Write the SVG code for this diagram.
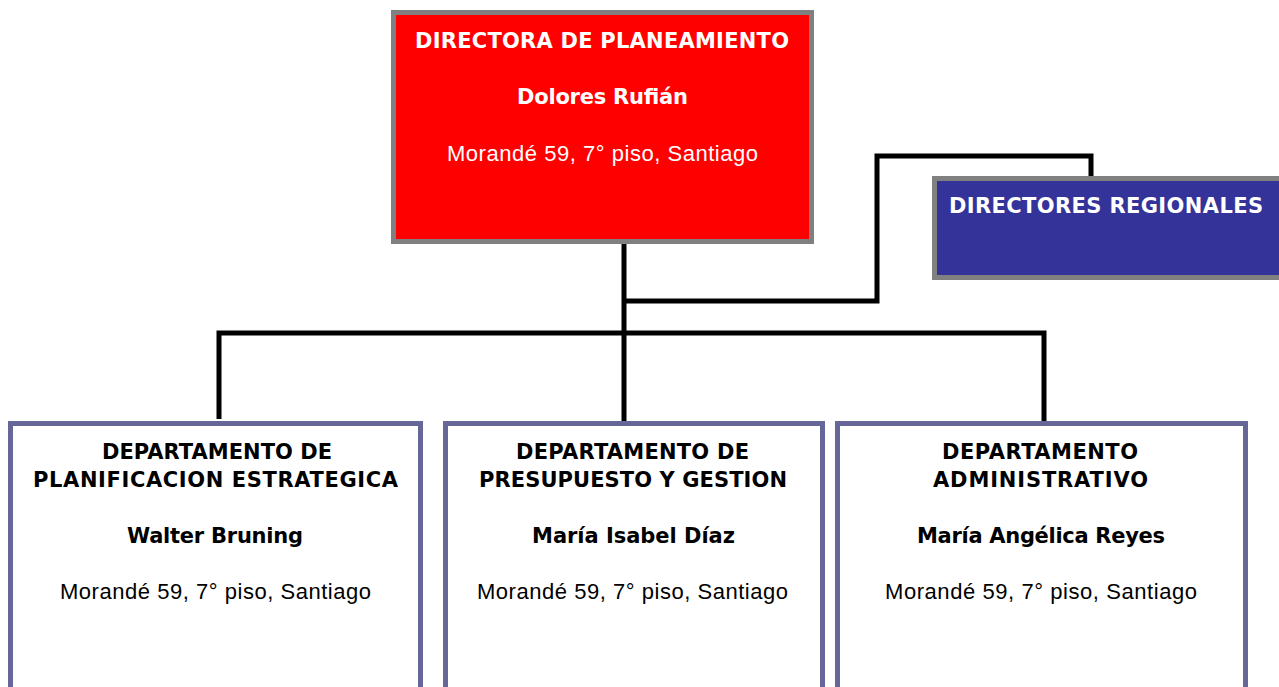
<svg xmlns="http://www.w3.org/2000/svg" width="1279" height="687" viewBox="0 0 1279 687">
<style>
.b{font-family:"DejaVu Sans","Liberation Sans",Arial,sans-serif;font-weight:bold;font-size:21px}
.r{font-family:"Liberation Sans",Arial,sans-serif;font-size:22px}
.w{fill:#ffffff}
.k{fill:#000000}
.dept{fill:#ffffff;stroke:#666699;stroke-width:5}
.conn{fill:none;stroke:#000000;stroke-width:5;stroke-linejoin:miter;stroke-linecap:butt}
</style>
<rect width="1279" height="687" fill="#ffffff"/>
<g id="connectors">
<path class="conn" d="M624 242 V421"/>
<path class="conn" d="M219 419 V333 H1044 V426"/>
<path class="conn" d="M624 301 H877 V156 H1091 V178"/>
</g>
<g id="directora">
<rect x="393.5" y="12.5" width="418" height="229" fill="#ff0000" stroke="#808080" stroke-width="5"/>
<text class="b w" x="415" y="48" textLength="374" lengthAdjust="spacing">DIRECTORA DE PLANEAMIENTO</text>
<text class="b w" x="517" y="104" textLength="171" lengthAdjust="spacing">Dolores Rufián</text>
<text class="r w" x="447" y="161" textLength="311" lengthAdjust="spacing">Morandé 59, 7° piso, Santiago</text>
</g>
<g id="regionales">
<rect x="934.5" y="178.5" width="360" height="99" fill="#333399" stroke="#808080" stroke-width="5"/>
<text class="b w" x="949" y="213" textLength="314" lengthAdjust="spacing">DIRECTORES REGIONALES</text>
</g>
<g id="planificacion">
<rect class="dept" x="10.5" y="423.5" width="410" height="300"/>
<text class="b k" x="102" y="459" textLength="230" lengthAdjust="spacing">DEPARTAMENTO DE</text>
<text class="b k" x="33" y="487" textLength="365" lengthAdjust="spacing">PLANIFICACION ESTRATEGICA</text>
<text class="b k" x="127" y="543" textLength="176" lengthAdjust="spacing">Walter Bruning</text>
<text class="r k" x="60" y="599" textLength="311" lengthAdjust="spacing">Morandé 59, 7° piso, Santiago</text>
</g>
<g id="presupuesto">
<rect class="dept" x="445.5" y="423.5" width="377" height="300"/>
<text class="b k" x="516" y="459" textLength="233" lengthAdjust="spacing">DEPARTAMENTO DE</text>
<text class="b k" x="479" y="487" textLength="308" lengthAdjust="spacing">PRESUPUESTO Y GESTION</text>
<text class="b k" x="532" y="543" textLength="203" lengthAdjust="spacing">María Isabel Díaz</text>
<text class="r k" x="477" y="599" textLength="311" lengthAdjust="spacing">Morandé 59, 7° piso, Santiago</text>
</g>
<g id="administrativo">
<rect class="dept" x="837.5" y="423.5" width="408" height="300"/>
<text class="b k" x="942" y="459" textLength="196" lengthAdjust="spacing">DEPARTAMENTO</text>
<text class="b k" x="933" y="487" textLength="215" lengthAdjust="spacing">ADMINISTRATIVO</text>
<text class="b k" x="917" y="543" textLength="248" lengthAdjust="spacing">María Angélica Reyes</text>
<text class="r k" x="885" y="599" textLength="312" lengthAdjust="spacing">Morandé 59, 7° piso, Santiago</text>
</g>
</svg>
